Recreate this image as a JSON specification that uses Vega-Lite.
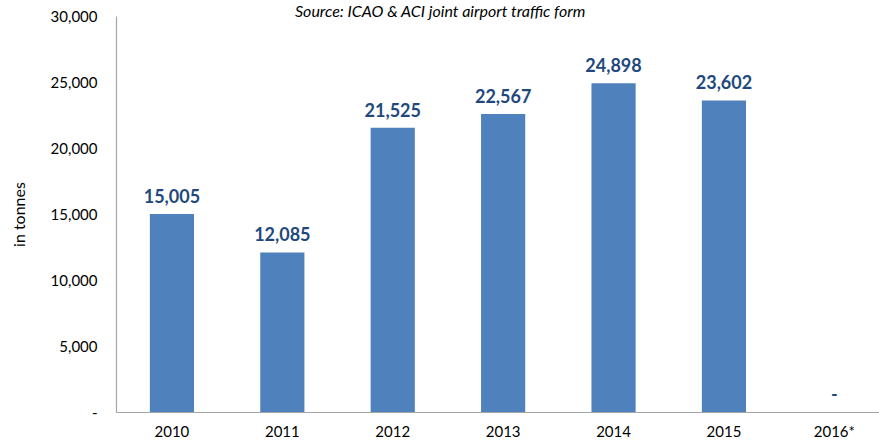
{
  "$schema": "https://vega.github.io/schema/vega-lite/v6.json",
  "autosize": "none",
  "padding": {"left": 116, "top": 16, "right": 0, "bottom": 31},
  "width": 763,
  "height": 396,
  "background": "white",
  "title": {
    "text": "Source: ICAO & ACI joint airport traffic form",
    "anchor": "start",
    "frame": "group",
    "dx": 179,
    "offset": -24,
    "font": "Lato",
    "fontSize": 16,
    "fontStyle": "italic",
    "fontWeight": "normal",
    "color": "#000000",
    "baseline": "alphabetic"
  },
  "data": {
    "values": [
      {"year": "2010", "value": 15005, "label": "15,005"},
      {"year": "2011", "value": 12085, "label": "12,085"},
      {"year": "2012", "value": 21525, "label": "21,525"},
      {"year": "2013", "value": 22567, "label": "22,567"},
      {"year": "2014", "value": 24898, "label": "24,898"},
      {"year": "2015", "value": 23602, "label": "23,602"},
      {"year": "2016*", "value": 0, "label": "-"}
    ]
  },
  "encoding": {
    "x": {
      "field": "year",
      "type": "nominal",
      "sort": null,
      "scale": {"paddingInner": 0.6, "paddingOuter": 0.2555, "align": 0.6},
      "axis": {
        "title": null,
        "labelAngle": 0,
        "ticks": false,
        "labelPadding": 12,
        "labelFont": "Lato",
        "labelFontSize": 15,
        "labelColor": "#000000",
        "domainColor": "#A6A6A6",
        "domainWidth": 1.2,
        "grid": false
      }
    },
    "y": {
      "field": "value",
      "type": "quantitative",
      "scale": {"domain": [0, 30000], "nice": false},
      "axis": {
        "title": "in tonnes",
        "titleFont": "Lato",
        "titleFontSize": 16,
        "titleFontWeight": "normal",
        "titleColor": "#000000",
        "titlePadding": 23,
        "values": [0, 5000, 10000, 15000, 20000, 25000, 30000],
        "labelExpr": "datum.value == 0 ? '-\u00a0\u00a0\u00a0' : format(datum.value, ',')",
        "ticks": false,
        "grid": false,
        "labelPadding": 19,
        "labelFont": "Lato",
        "labelFontSize": 15,
        "labelColor": "#000000",
        "domainColor": "#A6A6A6",
        "domainWidth": 1.2
      }
    }
  },
  "layer": [
    {
      "mark": {"type": "bar", "color": "#4F81BD"}
    },
    {
      "mark": {
        "type": "text",
        "baseline": "alphabetic",
        "dy": -11,
        "font": "Lato",
        "fontSize": 18,
        "fontWeight": "bold",
        "color": "#1F497D"
      },
      "encoding": {"text": {"field": "label"}}
    }
  ],
  "config": {"view": {"stroke": null}}
}
